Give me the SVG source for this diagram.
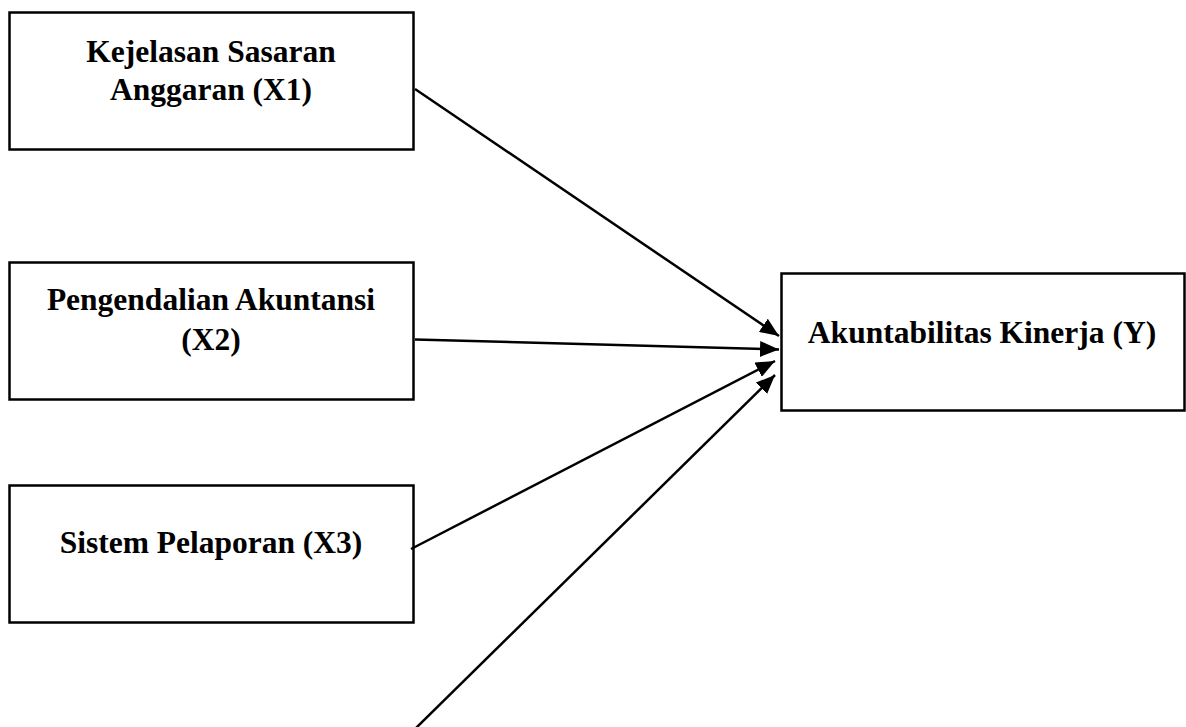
<svg xmlns="http://www.w3.org/2000/svg" width="1186" height="727" viewBox="0 0 1186 727">
<defs>
<style>
.box{fill:#fff;stroke:#000;stroke-width:2.5}
.lbl{font-family:"Liberation Serif","Times New Roman",serif;font-weight:bold;font-size:31.5px;fill:#000;text-anchor:middle}
.conn{stroke:#000;stroke-width:2.5;fill:none}
</style>
<marker id="ah" markerUnits="userSpaceOnUse" markerWidth="20" markerHeight="16" refX="19" refY="8" orient="auto">
<path d="M0,0 L19,8 L0,16 z" fill="#000"/>
</marker>
</defs>
<rect width="1186" height="727" fill="#fff"/>
<g id="x1">
<rect class="box" x="9.5" y="12.5" width="404" height="137"/>
<text class="lbl" x="211" y="62">Kejelasan Sasaran</text>
<text class="lbl" x="211" y="100">Anggaran (X1)</text>
</g>
<g id="x2">
<rect class="box" x="9.5" y="262.5" width="404" height="137"/>
<text class="lbl" x="211" y="310">Pengendalian Akuntansi</text>
<text class="lbl" x="211" y="350">(X2)</text>
</g>
<g id="x3">
<rect class="box" x="9.5" y="485.5" width="404" height="137"/>
<text class="lbl" x="211" y="553">Sistem Pelaporan (X3)</text>
</g>
<g id="y">
<rect class="box" x="781.5" y="273.5" width="403" height="137"/>
<text class="lbl" x="982" y="343">Akuntabilitas Kinerja (Y)</text>
</g>
<g id="connectors">
<line class="conn" x1="415" y1="89" x2="779" y2="336" marker-end="url(#ah)"/>
<line class="conn" x1="415" y1="339.5" x2="779" y2="349.5" marker-end="url(#ah)"/>
<line class="conn" x1="411" y1="549" x2="775" y2="361" marker-end="url(#ah)"/>
<line class="conn" x1="416" y1="728" x2="775" y2="375" marker-end="url(#ah)"/>
</g>
</svg>
